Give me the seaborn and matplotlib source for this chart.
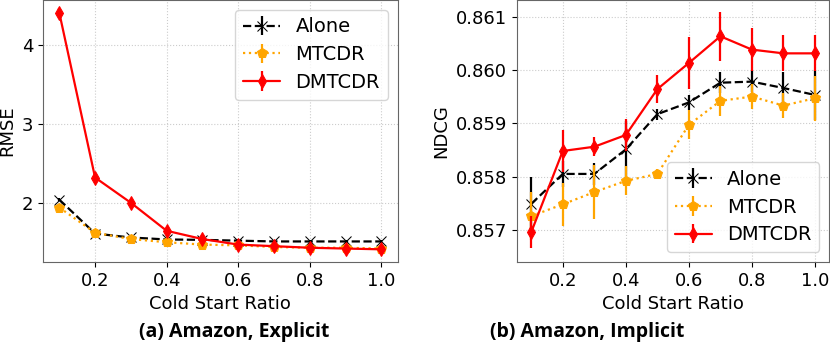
import numpy as np
import pandas as pd
import matplotlib
matplotlib.use("Agg")
import matplotlib.pyplot as plt
import seaborn as sns
from matplotlib.container import ErrorbarContainer

ratios = [0.1, 0.2, 0.3, 0.4, 0.5, 0.6, 0.7, 0.8, 0.9, 1.0]
methods = ["Alone", "MTCDR", "DMTCDR"]

# (a) Amazon, Explicit - RMSE
rmse_alone = [2.04, 1.61, 1.56, 1.535, 1.53, 1.52, 1.51, 1.51, 1.51, 1.51]
rmse_mtcdr = [1.94, 1.62, 1.54, 1.50, 1.47, 1.46, 1.44, 1.43, 1.43, 1.42]
rmse_dmtcdr = [4.41, 2.32, 2.00, 1.645, 1.54, 1.47, 1.45, 1.43, 1.42, 1.41]
rmse_alone_err = [0.02, 0.02, 0.02, 0.02, 0.02, 0.02, 0.02, 0.02, 0.02, 0.02]
rmse_mtcdr_err = [0.03, 0.03, 0.03, 0.03, 0.03, 0.03, 0.03, 0.03, 0.03, 0.03]
rmse_dmtcdr_err = [0.06, 0.05, 0.05, 0.04, 0.04, 0.04, 0.04, 0.04, 0.04, 0.04]

# (b) Amazon, Implicit - NDCG
ndcg_alone = [0.85749, 0.85805, 0.85805, 0.85851, 0.85917, 0.85939, 0.85976, 0.85978, 0.85966, 0.85953]
ndcg_mtcdr = [0.85726, 0.85748, 0.85771, 0.85792, 0.85805, 0.85897, 0.85942, 0.85950, 0.85933, 0.85947]
ndcg_dmtcdr = [0.85696, 0.85848, 0.85856, 0.85878, 0.85964, 0.86013, 0.86063, 0.86038, 0.86031, 0.86031]
ndcg_alone_err = [0.00051, 0.00025, 0.0002, 0.00053, 0.0001, 0.00014, 0.0002, 0.0002, 0.0003, 0.00047]
ndcg_mtcdr_err = [0.00045, 0.0004, 0.0005, 0.00027, 0.0001, 0.00027, 0.00028, 0.00023, 0.00024, 0.00042]
ndcg_dmtcdr_err = [0.0003, 0.0004, 0.00018, 0.0003, 0.00026, 0.00048, 0.00046, 0.0004, 0.00034, 0.00034]

colors = {"Alone": "black", "MTCDR": "orange", "DMTCDR": "red"}
styles = {"Alone": "--", "MTCDR": ":", "DMTCDR": "-"}
markers = {"Alone": "x", "MTCDR": "p", "DMTCDR": "d"}

sns.set_style("white")
plt.rcParams["font.family"] = ["DejaVu Sans"]
plt.rcParams["text.color"] = "black"
plt.rcParams["axes.labelcolor"] = "black"
plt.rcParams["xtick.color"] = "black"
plt.rcParams["ytick.color"] = "black"

fig = plt.figure(figsize=(8.3, 3.54), dpi=100)
ax1 = fig.add_axes([0.052, 0.26, 0.427, 0.74])
ax2 = fig.add_axes([0.623, 0.26, 0.376, 0.74])


def draw(ax, vals, errs, ylabel, legend_loc):
    handles = []
    for m in methods:
        df = pd.DataFrame({"ratio": ratios, "val": vals[m]})
        sns.lineplot(data=df, x="ratio", y="val", ax=ax, color=colors[m],
                     linestyle=styles[m], marker=markers[m], markersize=7,
                     markeredgecolor=colors[m], linewidth=1.6, legend=False)
        line = ax.lines[-1]
        eb = ax.errorbar(ratios, vals[m], yerr=errs[m], fmt="none",
                         ecolor=colors[m], elinewidth=1.6)
        barcols = eb.lines[2]
        handles.append(ErrorbarContainer((line, (), barcols), has_xerr=False,
                                         has_yerr=True, label=m))
    ax.grid(True, linestyle=":", color="#cccccc", linewidth=0.8)
    ax.set_xlabel("Cold Start Ratio", fontsize=13)
    ax.set_ylabel(ylabel, fontsize=13)
    ax.set_xticks([0.2, 0.4, 0.6, 0.8, 1.0])
    ax.tick_params(labelsize=13, length=3.5, left=True, bottom=True)
    for s in ax.spines.values():
        s.set_color("#666666")
    ax.legend(handles=handles, labels=methods, loc=legend_loc, fontsize=14,
              handlelength=1.9, labelspacing=0.45, borderpad=0.4)


draw(ax1, {"Alone": rmse_alone, "MTCDR": rmse_mtcdr, "DMTCDR": rmse_dmtcdr},
     {"Alone": rmse_alone_err, "MTCDR": rmse_mtcdr_err, "DMTCDR": rmse_dmtcdr_err},
     "RMSE", "upper right")
ax1.set_yticks([2, 3, 4])
ax1.set_ylim(1.25, 4.57)

draw(ax2, {"Alone": ndcg_alone, "MTCDR": ndcg_mtcdr, "DMTCDR": ndcg_dmtcdr},
     {"Alone": ndcg_alone_err, "MTCDR": ndcg_mtcdr_err, "DMTCDR": ndcg_dmtcdr_err},
     "NDCG", "lower right")
ax2.set_yticks([0.857, 0.858, 0.859, 0.860, 0.861])
ax2.set_ylim(0.85640, 0.86131)
ax2.yaxis.set_major_formatter(matplotlib.ticker.FormatStrFormatter("%.3f"))

fig.text(0.282, 0.062, "(a) Amazon, Explicit", ha="center", va="center",
         fontsize=14, fontweight="bold", family=["Open Sans", "DejaVu Sans"])
fig.text(0.707, 0.062, "(b) Amazon, Implicit", ha="center", va="center",
         fontsize=14, fontweight="bold", family=["Open Sans", "DejaVu Sans"])

fig.savefig("out.png", dpi=100)
